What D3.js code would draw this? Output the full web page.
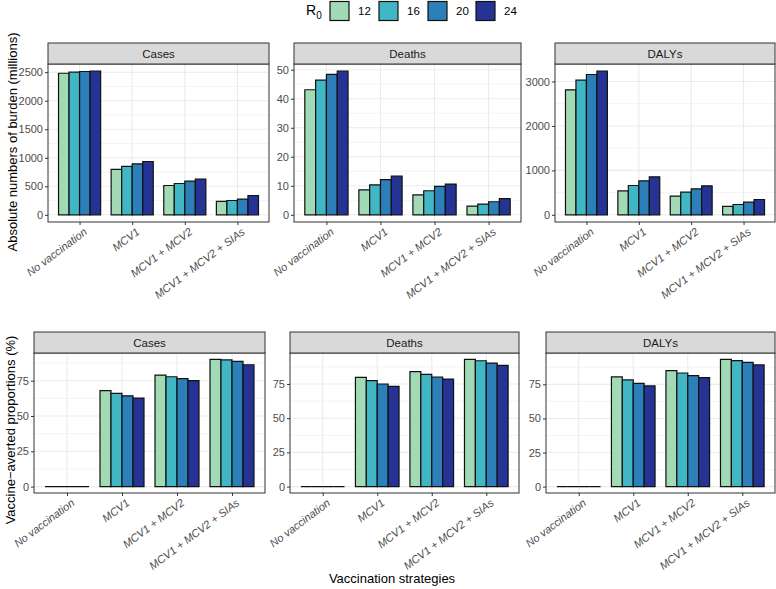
<!DOCTYPE html>
<html><head><meta charset="utf-8">
<script src="https://cdn.jsdelivr.net/npm/d3@7"></script>
<style>body{margin:0;background:#fff} svg{font-family:"Liberation Sans",Arial,Helvetica,sans-serif}</style>
</head><body><svg id="c" width="776" height="589"></svg>
<script>
const strategies = ["No vaccination","MCV1","MCV1 + MCV2","MCV1 + MCV2 + SIAs"];
const r0Levels = ["12","16","20","24"];
const metrics = ["Cases","Deaths","DALYs"];
const colors = ["#a1dab4","#41b6c4","#2c7fb8","#253494"];

// Absolute numbers (millions): rows = strategy, cols = R0
const casesAbs  = [[2482,2500,2512,2518],[795,848,894,935],[514,549,590,625],[234,251,275,339]];
const deathsAbs = [[43.1,46.4,48.4,49.5],[8.6,10.3,12.1,13.3],[6.9,8.3,9.8,10.6],[3.0,3.7,4.5,5.6]];
const dalysAbs  = [[2812,3030,3157,3232],[540,660,765,855],[420,510,585,652],[188,232,285,345]];
// Vaccine-averted proportions (%)
const casesPct  = [[0,0,0,0],[67.9,66.0,64.3,62.7],[79.0,77.8,76.4,75.0],[90.1,89.7,88.7,86.3]];
const deathsPct = [[0,0,0,0],[79.9,77.4,75.0,73.3],[84.0,82.1,80.1,78.6],[93.0,92.0,90.3,88.6]];
const dalysPct  = [[0,0,0,0],[80.4,78.2,75.7,73.8],[85.0,83.3,81.4,79.9],[93.3,92.4,91.1,89.2]];

// Tick labels
const casesAbsTicks  = [0,500,1000,1500,2000,2500];
const deathsAbsTicks = [0,10,20,30,40,50];
const dalysAbsTicks  = [0,1000,2000,3000];
const pctTicks       = [0,25,50,75];

const svg = d3.select("#c");
const TICK_FS = 11;

const rows = [
  {title:"Absolute numbers of burden (millions)", titleY:142, titleX:12,
   stripTop:43, stripBot:64, plotBot:222,
   panels:[
     {x0:48,x1:269,data:casesAbs,ticks:casesAbsTicks},
     {x0:294,x1:521,data:deathsAbs,ticks:deathsAbsTicks},
     {x0:555,x1:775,data:dalysAbs,ticks:dalysAbsTicks}]},
  {title:"Vaccine\u2212averted proportions (%)", titleY:430, titleX:10,
   stripTop:332, stripBot:353, plotBot:493,
   panels:[
     {x0:34,x1:265,data:casesPct,ticks:pctTicks},
     {x0:290,x1:519,data:deathsPct,ticks:pctTicks},
     {x0:546,x1:775,data:dalysPct,ticks:pctTicks}]}
];

rows.forEach(row => {
  row.panels.forEach((p, mi) => {
    const maxV = d3.max(p.data.flat());
    const y = d3.scaleLinear().domain([-0.05*maxV, 1.05*maxV]).range([row.plotBot, row.stripBot]);
    const x = d3.scalePoint().domain(strategies).range([p.x0, p.x1]).padding(0.6);
    const step = x.step();
    const bw = step*0.2;
    const g = svg.append("g");
    g.append("rect").attr("x",p.x0).attr("y",row.stripBot).attr("width",p.x1-p.x0).attr("height",row.plotBot-row.stripBot).attr("fill","#fff");
    const minors = [];
    const d = p.ticks[1]-p.ticks[0];
    for (let i=0;i<p.ticks.length;i++){
      const m = p.ticks[i]+d/2;
      if (m < y.domain()[1]) minors.push(m);
    }
    g.selectAll(".mn").data(minors).join("line")
      .attr("x1",p.x0).attr("x2",p.x1).attr("y1",v=>y(v)).attr("y2",v=>y(v))
      .attr("stroke","#ebebeb").attr("stroke-width",0.6);
    g.selectAll(".mj").data(p.ticks).join("line")
      .attr("x1",p.x0).attr("x2",p.x1).attr("y1",v=>y(v)).attr("y2",v=>y(v))
      .attr("stroke","#ebebeb").attr("stroke-width",1.1);
    g.selectAll(".vx").data(strategies).join("line")
      .attr("x1",v=>x(v)).attr("x2",v=>x(v)).attr("y1",row.stripBot).attr("y2",row.plotBot)
      .attr("stroke","#ebebeb").attr("stroke-width",1.1);
    strategies.forEach((s, si) => {
      r0Levels.forEach((r, ri) => {
        const v = p.data[si][ri];
        const xl = x(s) + (ri-2)*bw;
        const y0 = y(0), y1 = y(v);
        g.append("path")
          .attr("d", `M${xl},${y0}H${xl+bw}V${y1}H${xl}Z`)
          .attr("fill", colors[ri]).attr("stroke","#111").attr("stroke-width",1.2);
      });
    });
    g.append("rect").attr("x",p.x0).attr("y",row.stripBot).attr("width",p.x1-p.x0).attr("height",row.plotBot-row.stripBot)
      .attr("fill","none").attr("stroke","#333").attr("stroke-width",1);
    g.append("rect").attr("x",p.x0).attr("y",row.stripTop).attr("width",p.x1-p.x0).attr("height",row.stripBot-row.stripTop)
      .attr("fill","#d9d9d9").attr("stroke","#333").attr("stroke-width",1);
    g.append("text").attr("x",(p.x0+p.x1)/2).attr("y",(row.stripTop+row.stripBot)/2).attr("dy","0.36em")
      .attr("text-anchor","middle").attr("font-size",11.5).attr("fill","#1a1a1a").text(metrics[mi]);
    const ya = g.append("g").attr("transform",`translate(${p.x0},0)`)
      .call(d3.axisLeft(y).tickValues(p.ticks).tickSize(3).tickPadding(2).tickFormat(d3.format("d")));
    ya.select(".domain").remove();
    ya.selectAll(".tick line").attr("stroke","#333");
    ya.selectAll(".tick text").attr("fill","#4d4d4d").attr("font-size",TICK_FS).attr("font-family",null);
    const xa = g.append("g").attr("transform",`translate(0,${row.plotBot})`)
      .call(d3.axisBottom(x).tickSize(3).tickPadding(0));
    xa.select(".domain").remove();
    xa.selectAll(".tick line").attr("stroke","#333");
    xa.selectAll(".tick text").attr("fill","#4d4d4d").attr("font-size",TICK_FS).attr("font-family",null)
      .attr("font-style","italic").attr("text-anchor","end")
      .attr("transform","translate(3,5) rotate(-37)").attr("dy","0.72em").attr("y",0).attr("x",0);
  });
  svg.append("text").attr("transform",`translate(${row.titleX},${row.titleY}) rotate(-90)`)
    .attr("text-anchor","middle").attr("dy","0.36em").attr("font-size",13).attr("fill","#000").text(row.title);
});

svg.append("text").attr("x",392).attr("y",578).attr("dy","0.36em").attr("text-anchor","middle")
  .attr("font-size",13).attr("fill","#000").text("Vaccination strategies");

const leg = svg.append("g");
const lt = leg.append("text").attr("x",306).attr("y",10).attr("dy","0.36em").attr("font-size",14).attr("fill","#000");
lt.append("tspan").text("R");
lt.append("tspan").attr("font-size",10).attr("dy","0.35em").text("0");
const legX = [330,379,428,476];
r0Levels.forEach((r,i)=>{
  leg.append("rect").attr("x",legX[i]).attr("y",1.5).attr("width",19).attr("height",19)
    .attr("fill",colors[i]).attr("stroke","#111").attr("stroke-width",1.2);
  leg.append("text").attr("x",legX[i]+28).attr("y",11).attr("dy","0.36em").attr("font-size",11.5).attr("fill","#000").text(r);
});
</script></body></html>
